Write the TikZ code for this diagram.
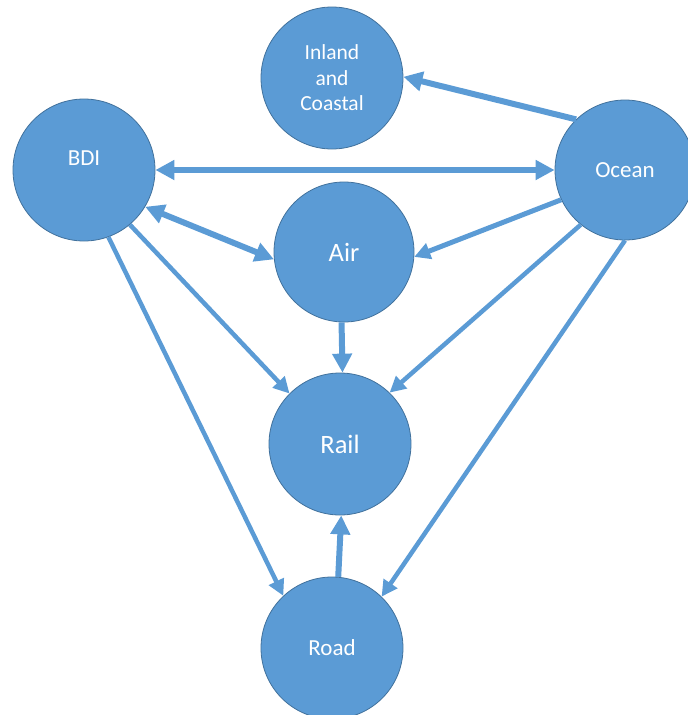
\documentclass[tikz,border=0pt]{standalone}
\usepackage{fontspec}
\setmainfont{Carlito}
\usetikzlibrary{arrows.meta}
\definecolor{mode}{HTML}{5B9BD5}
\definecolor{modeedge}{HTML}{41719C}
\begin{document}
\begin{tikzpicture}[x=1pt,y=-1pt,
  hub/.style={circle,fill=mode,draw=modeedge,line width=0.8pt,minimum size=142pt,
    inner sep=0pt,text=white,align=center,font=\fontsize{23}{25.5}\selectfont},
  big/.style={font=\fontsize{26.5}{30}\selectfont},
  link/.style={draw=mode,line width=6pt,-{Triangle[length=19pt,width=19pt]}},
  twoway/.style={draw=mode,line width=6pt,{Triangle[length=19pt,width=19pt]}-{Triangle[length=19pt,width=19pt]}},
  slim/.style={draw=mode,line width=4.5pt,-{Triangle[length=16pt,width=16pt]}},
]
\useasboundingbox (0,0) rectangle (688,715);

% transport modes
\node[hub,font=\fontsize{21.5}{25.5}\selectfont] (inland) at (332,78) {Inland\\and\\Coastal};
\node[hub,label={[text=white,font=\fontsize{23}{26}\selectfont,yshift=12pt]center:BDI}] (bdi) at (84,170) {};
\node[hub,minimum size=140pt] (ocean) at (625,170) {Ocean};
\node[hub,big,minimum size=140pt] (air) at (344,252) {Air};
\node[hub,big] (rail) at (340,444) {Rail};
\node[hub] (road) at (332,648) {Road};

% flows between modes
\draw[link] (ocean.134) -- (inland.1);
\draw[twoway] (bdi.0) -- (ocean.180);
\draw[twoway] (bdi.-31) -- (air.186);
\draw[slim,line width=5pt] (ocean.205) -- (air.-4);
\draw[link] (air.-92) -- (rail.88);
\draw[slim] (bdi.-50) -- (rail.135);
\draw[slim] (ocean.231) -- (rail.46);
\draw[slim] (bdi.-70) -- (road.133);
\draw[slim] (ocean.-90) -- (road.46);
\draw[link] (road.85) -- (rail.-89);
\end{tikzpicture}
\end{document}
